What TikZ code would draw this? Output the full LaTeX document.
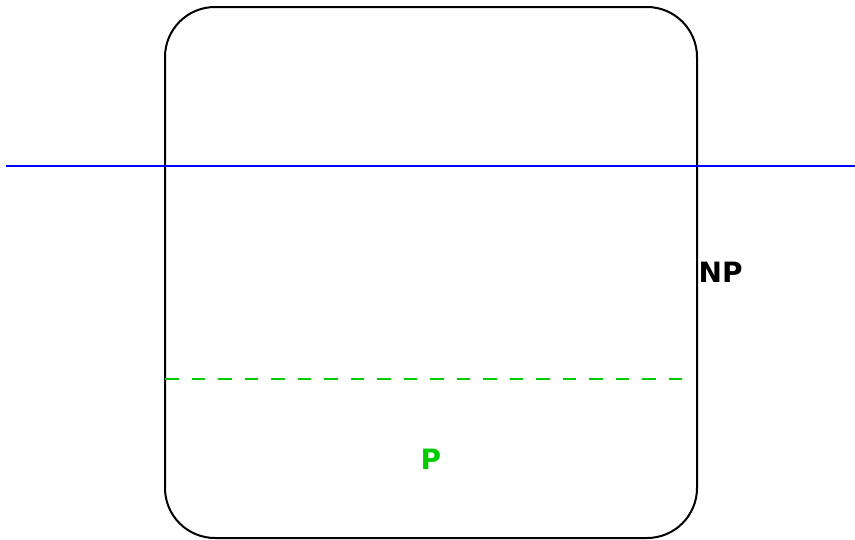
\documentclass[tikz,border=0pt]{standalone}
\usepackage{fontspec}
\setmainfont{DejaVu Sans}
\definecolor{pgreen}{RGB}{0,204,0}
\begin{document}
\begin{tikzpicture}[x=1pt,y=-1pt,font=\fontsize{28}{32}\selectfont\bfseries]
  \useasboundingbox (0,0) rectangle (855,539);
  \node[draw,line width=2pt,rounded corners=50pt,minimum width=532pt,minimum height=531pt] (box) at (431,272.5) {};
  \coordinate (bl) at (6,166);
  \coordinate (br) at (855,166);
  \draw[blue,line width=2pt] (bl) -- (br);
  \coordinate (gl) at (165,379);
  \coordinate (gr) at (684,379);
  \draw[pgreen,line width=2pt,dash pattern=on 13.5pt off 13pt] (gl) -- (gr);
  \node[anchor=west,inner sep=0.5pt] (np) at (box.east) {NP};
  \node[pgreen,inner sep=0pt] (p) at (431,459) {P};
\end{tikzpicture}
\end{document}
